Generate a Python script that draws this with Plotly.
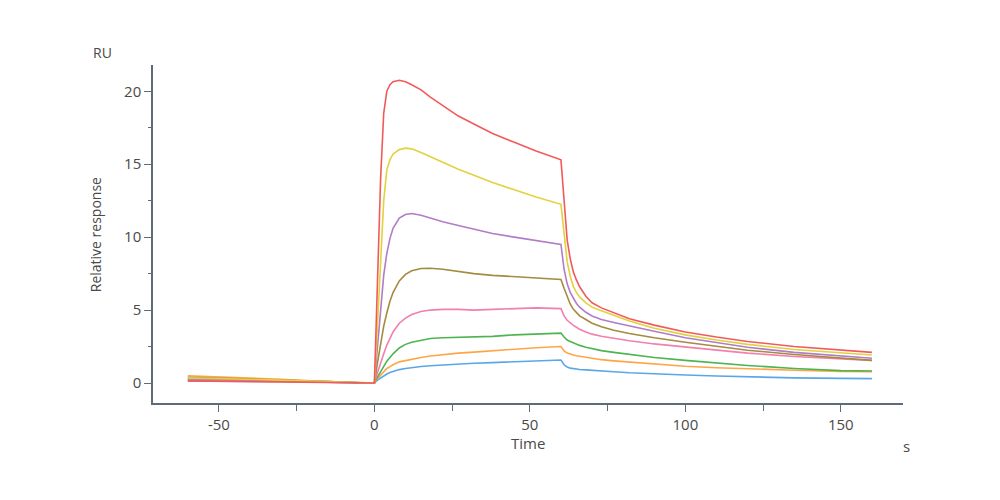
import plotly.graph_objects as go

time_s = [-60, -45, -30, -15, -2, 0, 1, 2, 3, 4, 5, 6, 8, 10, 12, 15, 18, 22, 27, 32, 38, 45, 52, 60,
          61, 62, 63, 64, 65, 66, 68, 70, 73, 77, 82, 90, 100, 110, 120, 135, 150, 160]

red = [0.15, 0.1, 0.08, 0.05, 0, 0, 7, 14, 18.5, 20.0, 20.45, 20.65, 20.75, 20.65, 20.45, 20.1, 19.6, 19.0, 18.3,
       17.75, 17.1, 16.5, 15.9, 15.3,
       12.2, 9.8, 8.5, 7.6, 7.05, 6.6, 5.95, 5.5, 5.15, 4.82, 4.4, 3.97, 3.5, 3.15, 2.85, 2.5, 2.25, 2.1]
yellow = [0.35, 0.3, 0.2, 0.1, 0, 0, 4, 8.4, 12.5, 14.6, 15.3, 15.7, 16.0, 16.1, 16.05, 15.8, 15.5, 15.1, 14.65,
          14.25, 13.75, 13.25, 12.75, 12.25,
          10.2, 8.3, 7.3, 6.6, 6.2, 5.9, 5.5, 5.2, 4.95, 4.66, 4.25, 3.75, 3.3, 2.95, 2.65, 2.3, 2.05, 1.92]
purple = [0.3, 0.25, 0.2, 0.1, 0, 0, 2.5, 5.2, 7.4, 8.9, 9.9, 10.6, 11.3, 11.55, 11.62, 11.5, 11.3, 11.05, 10.8,
          10.55, 10.25, 10.0, 9.75, 9.5,
          7.8, 6.8, 6.2, 5.8, 5.45, 5.2, 4.85, 4.6, 4.35, 4.15, 3.9, 3.55, 3.1, 2.75, 2.45, 2.1, 1.85, 1.7]
brown = [0.4, 0.3, 0.25, 0.1, 0, 0, 1.4, 2.8, 3.9, 4.8, 5.6, 6.2, 7.0, 7.45, 7.7, 7.85, 7.87, 7.8, 7.65,
         7.5, 7.38, 7.3, 7.2, 7.1,
         6.5, 5.9, 5.4, 5.05, 4.8, 4.6, 4.35, 4.1, 3.85, 3.62, 3.4, 3.1, 2.8, 2.5, 2.25, 1.95, 1.7, 1.55]
pink = [0.2, 0.2, 0.15, 0.05, 0, 0, 0.7, 1.4, 2.0, 2.6, 3.1, 3.5, 4.1, 4.45, 4.7, 4.9, 5.0, 5.05, 5.05,
        5.0, 5.05, 5.1, 5.15, 5.1,
        4.6, 4.3, 4.1, 3.95, 3.82, 3.68, 3.5, 3.35, 3.2, 3.05, 2.9, 2.68, 2.48, 2.25, 2.05, 1.82, 1.63, 1.55]
green = [0.3, 0.25, 0.2, 0.05, 0, 0, 0.4, 0.8, 1.15, 1.5, 1.75, 2.0, 2.4, 2.65, 2.8, 2.95, 3.05, 3.1, 3.12,
         3.15, 3.2, 3.3, 3.38, 3.42,
         3.15, 2.95, 2.85, 2.75, 2.65, 2.58, 2.45, 2.35, 2.22, 2.1, 1.95, 1.75, 1.55, 1.35, 1.2, 1.0, 0.85, 0.82]
orange = [0.5, 0.4, 0.25, 0.1, 0, 0, 0.3, 0.55, 0.8, 1.0, 1.12, 1.25, 1.45, 1.55, 1.65, 1.75, 1.85, 1.95, 2.05,
          2.12, 2.22, 2.35, 2.42, 2.5,
          2.2, 2.05, 1.97, 1.92, 1.87, 1.83, 1.75, 1.68, 1.6, 1.52, 1.43, 1.3, 1.15, 1.05, 0.97, 0.88, 0.8, 0.78]
blue = [0.15, 0.15, 0.1, 0.05, 0, 0, 0.2, 0.35, 0.5, 0.62, 0.72, 0.8, 0.92, 1.0, 1.06, 1.13, 1.18, 1.24, 1.32,
        1.36, 1.4, 1.45, 1.5, 1.58,
        1.25, 1.1, 1.02, 0.98, 0.95, 0.93, 0.9, 0.86, 0.82, 0.77, 0.7, 0.62, 0.55, 0.48, 0.42, 0.35, 0.32, 0.3]

x_ticks = [-50, 0, 50, 100, 150]
x_tick_labels = ["-50", "0", "50", "100", "150"]
y_ticks = [0, 5, 10, 15, 20]

series = [
    ("blue", blue, "#5aa7e8"),
    ("orange", orange, "#ffa548"),
    ("green", green, "#4db451"),
    ("pink", pink, "#f27fae"),
    ("brown", brown, "#a38b3f"),
    ("purple", purple, "#b17cc8"),
    ("yellow", yellow, "#e2d23e"),
    ("red", red, "#f25a5a"),
]

fig = go.Figure()
for name, vals, col in series:
    fig.add_trace(go.Scatter(x=time_s, y=vals, mode="lines", name=name,
                             line=dict(color=col, width=1.6), showlegend=False))

axis_col = "#5d6b7a"
font_col = "#4a4a4a"
fig.update_layout(
    width=1000, height=500,
    margin=dict(l=145, r=105, t=57, b=105),
    paper_bgcolor="white", plot_bgcolor="white",
    font=dict(family="Open Sans", size=15, color=font_col),
    xaxis=dict(range=[-71.2, 170], showgrid=False, zeroline=False,
               showline=True, linecolor=axis_col, linewidth=1.5,
               ticks="outside", ticklen=7, tickcolor=axis_col, tickwidth=1.3,
               tickvals=x_ticks, ticktext=x_tick_labels,
               minor=dict(tickvals=[-25, 25, 75, 125], ticks="outside", ticklen=6,
                          tickcolor=axis_col, tickwidth=1.3),
               tickfont=dict(size=15, color=font_col)),
    yaxis=dict(range=[-1.37, 21.8], showgrid=False, zeroline=False,
               showline=True, linecolor=axis_col, linewidth=1.5,
               ticks="outside", ticklen=7, tickcolor=axis_col, tickwidth=1.3,
               tickvals=y_ticks,
               minor=dict(tickvals=[2.5, 7.5, 12.5, 17.5], ticks="outside", ticklen=3,
                          tickcolor=axis_col, tickwidth=1.3),
               tickfont=dict(size=15, color=font_col)),
    annotations=[
        dict(text="RU", x=-0.0667, y=1.038, xref="paper", yref="paper", showarrow=False,
             xanchor="center", yanchor="middle", font=dict(size=14, color=font_col)),
        dict(text="s", x=1.005, y=-0.127, xref="paper", yref="paper", showarrow=False,
             xanchor="center", yanchor="middle", font=dict(size=15, color=font_col)),
        dict(text="Time", x=0.5, y=-0.118, xref="paper", yref="paper", showarrow=False,
             xanchor="center", yanchor="middle", font=dict(size=15, color=font_col)),
        dict(text="Relative response", x=-0.077, y=0.497, xref="paper", yref="paper",
             showarrow=False, textangle=-90, xanchor="center", yanchor="middle",
             font=dict(size=14, color=font_col)),
    ],
)

fig.write_html("out.html")
